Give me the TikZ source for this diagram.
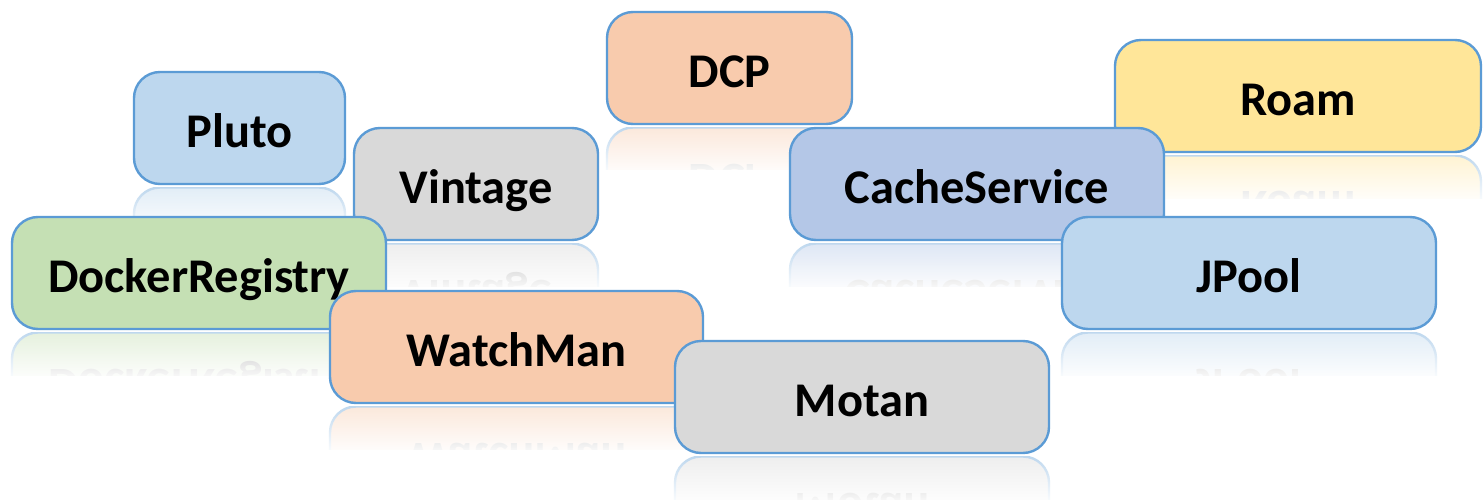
\documentclass[tikz,border=0pt]{standalone}
\usepackage{fontspec}
\setmainfont{Carlito}
\usetikzlibrary{fadings}
\definecolor{bord}{HTML}{5B9BD5}
\definecolor{cblue}{HTML}{BDD7EE}
\definecolor{cgray}{HTML}{D9D9D9}
\definecolor{corange}{HTML}{F8CBAD}
\definecolor{cyellow}{HTML}{FFE699}
\definecolor{cblueb}{HTML}{B4C7E7}
\definecolor{cgreen}{HTML}{C5E0B4}
\tikzfading[name=whiteout, top color=transparent!100, bottom color=transparent!0]
\tikzset{
  pill/.style={draw=bord, line width=1.2pt, rounded corners=13pt, inner sep=0pt,
    font=\bfseries\fontsize{24.2}{28}\selectfont, text height=19.5pt, text depth=0pt},
  reflbox/.style={draw=bord!45!white, line width=1.2pt, rounded corners=13pt},
  refltext/.style={anchor=base, inner sep=0pt, text=black!30,
    font=\bfseries\fontsize{24.2}{28}\selectfont},
  whitefade/.style={fill=white, path fading=whiteout}
}
\newcommand\pillbox[7]{%
  \pgfmathsetmacro\pbcx{(#2+#4)/2}%
  \pgfmathsetmacro\pbcy{499-(#3+#5)/2}%
  \pgfmathsetmacro\pbw{#4-#2}%
  \pgfmathsetmacro\pbh{#5-#3}%
  \pgfmathsetmacro\pbb{499-#5}%
  \node[pill, fill=#6, minimum width=\pbw*0.5pt, minimum height=\pbh*0.5pt] (#1) at (\pbcx,\pbcy) {#7};
  \begin{scope}
    \clip (#2-4,\pbb-3.5) rectangle (#4+4,\pbb-46);
    \draw[reflbox, fill=#6!50!white] (#2,\pbb-3.5-\pbh) rectangle (#4,\pbb-3.5);
    \node[refltext] (#1-refl) at (\pbcx,\pbb-40) {\scalebox{1}[-1]{#7}};
    \fill[whitefade] (#2-4,\pbb+4) rectangle (#4+4,\pbb-52);
  \end{scope}
}
\begin{document}
\begin{tikzpicture}[x=0.5pt,y=0.5pt]
\fill[white] (0,0) rectangle (1483,499);
\useasboundingbox (0,0) rectangle (1483,499);
\pillbox{pluto}{134}{72}{345}{184}{cblue}{Pluto}
\pillbox{vintage}{354}{128}{598}{240}{cgray}{Vintage}
\pillbox{dcp}{607}{12}{852}{124}{corange}{DCP}
\pillbox{roam}{1115}{40}{1481}{152}{cyellow}{Roam}
\pillbox{cache}{790}{128}{1164}{240}{cblueb}{CacheService}
\pillbox{docker}{12}{217}{386}{329}{cgreen}{DockerRegistry}
\pillbox{jpool}{1062}{217}{1436}{329}{cblue}{JPool}
\pillbox{watch}{330}{291}{703}{403}{corange}{WatchMan}
\pillbox{motan}{675}{341}{1049}{453}{cgray}{Motan}
\end{tikzpicture}
\end{document}
